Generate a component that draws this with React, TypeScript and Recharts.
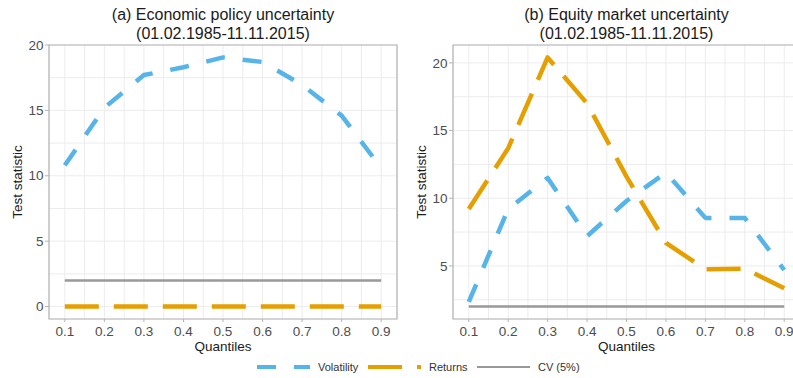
import { LineChart, Line, XAxis, YAxis, CartesianGrid, ReferenceArea } from "recharts";

// quantile levels on the x axis
const quantiles = [0.1, 0.2, 0.3, 0.4, 0.5, 0.6, 0.7, 0.8, 0.9];

// (a) economic policy uncertainty
const epuVolatility = [10.8, 15.2, 17.7, 18.3, 19.05, 18.7, 16.95, 14.6, 10.6];
const epuReturns = [0, 0, 0, 0, 0, 0, 0, 0, 0];
const epuCV = [2, 2, 2, 2, 2, 2, 2, 2, 2];

// (b) equity market uncertainty
const emuVolatility = [2.35, 9.2, 11.5, 7.2, 9.8, 11.9, 8.55, 8.55, 4.7];
const emuReturns = [9.2, 13.7, 20.4, 17.0, 11.6, 6.7, 4.75, 4.8, 3.35];
const emuCV = [2, 2, 2, 2, 2, 2, 2, 2, 2];

// major + minor grid positions
const xTicks = [0.1, 0.15, 0.2, 0.25, 0.3, 0.35, 0.4, 0.45, 0.5, 0.55, 0.6, 0.65, 0.7, 0.75, 0.8, 0.85, 0.9];
const yTicksA = [0, 2.5, 5, 7.5, 10, 12.5, 15, 17.5, 20];
const yTicksB = [2.5, 5, 7.5, 10, 12.5, 15, 17.5, 20];

const series = [
  { key: "volatility", name: "Volatility", color: "#56B4E9", dash: "19 18", width: 4.5 },
  { key: "returns", name: "Returns", color: "#E69F00", dash: "34 15", width: 4.5 },
  { key: "cv", name: "CV (5%)", color: "#999999", dash: undefined, width: 2.5 },
];

const build = (vol: number[], ret: number[], cv: number[]) =>
  quantiles.map((q, i) => ({ q, volatility: vol[i], returns: ret[i], cv: cv[i] }));

const dataA = build(epuVolatility, epuReturns, epuCV);
const dataB = build(emuVolatility, emuReturns, emuCV);

const FONT = '"Liberation Sans", Arial, sans-serif';

const isMajorX = (v: number) => Math.abs(v * 10 - Math.round(v * 10)) < 1e-6;
const isMajorY = (v: number) => Math.abs(v / 5 - Math.round(v / 5)) < 1e-6;

const XTick = (props: any) => {
  const { x, y, payload } = props;
  if (!isMajorX(payload.value)) return <g />;
  return (
    <g>
      <line x1={x} x2={x} y1={y} y2={y + 3} stroke="#b3b3b3" />
      <text x={x} y={y + 17} textAnchor="middle" fontSize={13.5} fill="#4d4d4d" fontFamily={FONT}>
        {payload.value.toFixed(1)}
      </text>
    </g>
  );
};

const YTick = (props: any) => {
  const { x, y, payload } = props;
  if (!isMajorY(payload.value)) return <g />;
  return (
    <g>
      <line x1={x - 4} x2={x} y1={y} y2={y} stroke="#b3b3b3" />
      <text x={x - 5.5} y={y + 4.7} textAnchor="end" fontSize={13.5} fill="#4d4d4d" fontFamily={FONT}>
        {payload.value}
      </text>
    </g>
  );
};

function Panel(props: {
  data: any[];
  left: number;
  yDomain: [number, number];
  yTicks: number[];
  axisWidth: number;
  marginRight: number;
  labelDx: number;
  title: string[];
}) {
  const { data, left, yDomain, yTicks, axisWidth, marginRight, labelDx, title } = props;
  const plotLeft = axisWidth;
  const plotRight = 400 - marginRight;
  return (
    <div style={{ position: "absolute", left, top: 0, width: 400, height: 378 }}>
      <div
        style={{
          position: "absolute",
          left: plotLeft,
          width: plotRight - plotLeft,
          top: 6.3,
          textAlign: "center",
          fontSize: 16,
          lineHeight: "18.3px",
          color: "#1a1a1a",
          whiteSpace: "nowrap",
        }}
      >
        {title.map((t) => (
          <div key={t}>{t}</div>
        ))}
      </div>
      <LineChart width={400} height={378} data={data} margin={{ top: 45, right: marginRight, left: 0, bottom: 0 }}>
        <CartesianGrid stroke="#ececec" strokeWidth={1} />
        <XAxis
          dataKey="q"
          type="number"
          domain={[0.06, 0.94]}
          ticks={xTicks}
          allowDataOverflow
          axisLine={false}
          tickLine={false}
          tickSize={0}
          tickMargin={0}
          height={59}
          tick={<XTick />}
          interval={0}
          label={{ value: "Quantiles", position: "insideTop", offset: 22, fontSize: 13.5, fill: "#1a1a1a", fontFamily: FONT }}
        />
        <YAxis
          type="number"
          domain={yDomain}
          ticks={yTicks}
          allowDataOverflow
          axisLine={false}
          tickLine={false}
          tickSize={0}
          tickMargin={0}
          width={axisWidth}
          tick={<YTick />}
          interval={0}
          label={{ value: "Test statistic", angle: -90, position: "center", dx: labelDx, fontSize: 13.5, fill: "#1a1a1a", fontFamily: FONT }}
        />
        <ReferenceArea x1={0.06} x2={0.94} y1={yDomain[0]} y2={yDomain[1]} fill="none" stroke="#b3b3b3" strokeWidth={1.2} />
        {series.map((s) => (
          <Line
            key={s.key}
            type="linear"
            dataKey={s.key}
            name={s.name}
            stroke={s.color}
            strokeWidth={s.width}
            strokeDasharray={s.dash}
            strokeLinecap="butt"
            strokeLinejoin="round"
            dot={false}
            activeDot={false}
            isAnimationActive={false}
          />
        ))}
      </LineChart>
    </div>
  );
}

// legend key positions (px) in the figure
const legendKeyX = [257, 368, 477];

function LegendRow() {
  return (
    <svg style={{ position: "absolute", left: 0, top: 357 }} width={793} height={20}>
      {series.map((s, i) => (
        <g key={s.key}>
          <line
            x1={legendKeyX[i]}
            x2={legendKeyX[i] + 53}
            y1={10}
            y2={10}
            stroke={s.color}
            strokeWidth={s.width - 0.5}
            strokeDasharray={s.dash}
          />
          <text x={legendKeyX[i] + 61} y={14} fontSize={11} fill="#333333" fontFamily={FONT}>
            {s.name}
          </text>
        </g>
      ))}
    </svg>
  );
}

export default function App() {
  return (
    <div
      style={{
        position: "absolute",
        left: 0,
        top: 0,
        width: 793,
        height: 378,
        overflow: "hidden",
        background: "#ffffff",
        fontFamily: FONT,
      }}
    >
      <Panel
        data={dataA}
        left={0}
        yDomain={[-0.95, 20]}
        yTicks={yTicksA}
        axisWidth={49}
        marginRight={3}
        labelDx={-7}
        title={["(a) Economic policy uncertainty", "(01.02.1985-11.11.2015)"]}
      />
      <Panel
        data={dataB}
        left={400}
        yDomain={[1.08, 21.32]}
        yTicks={yTicksB}
        axisWidth={53}
        marginRight={0}
        labelDx={-5.5}
        title={["(b) Equity market uncertainty", "(01.02.1985-11.11.2015)"]}
      />
      <LegendRow />
    </div>
  );
}
